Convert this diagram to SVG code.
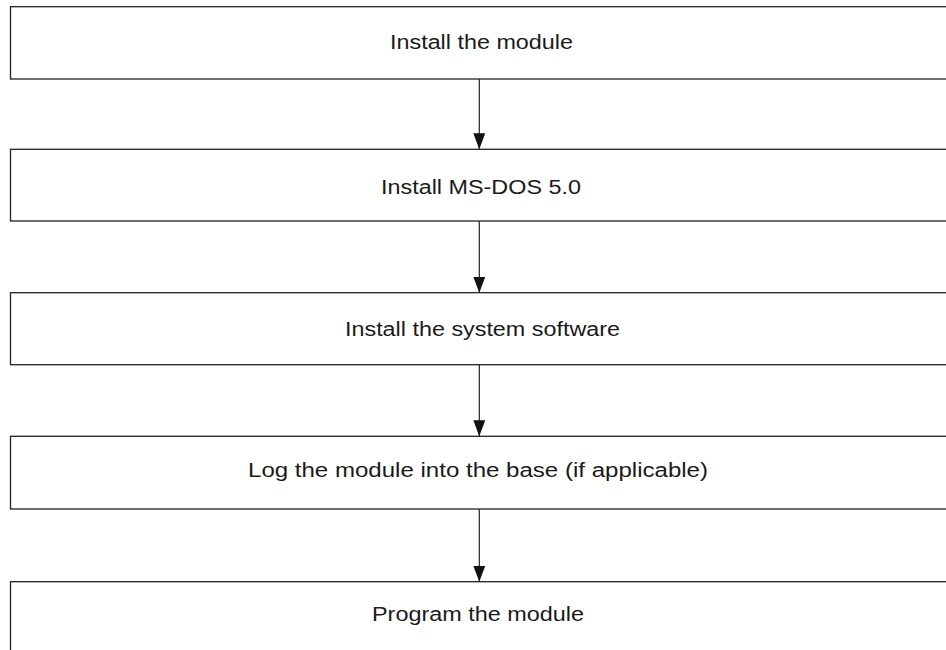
<svg xmlns="http://www.w3.org/2000/svg" width="946" height="650" viewBox="0 0 946 650">
  <style>
    .box { fill: #ffffff; stroke: #222222; stroke-width: 1.3; }
    .lbl { font-family: "Liberation Sans", Arial, sans-serif; font-size: 20px; fill: #1a1a1a; text-anchor: middle; }
    .link { stroke: #222222; stroke-width: 1.2; fill: none; }
  </style>
  <defs>
    <marker id="arrow" markerUnits="userSpaceOnUse" markerWidth="16" markerHeight="12" refX="16" refY="6" orient="auto" viewBox="0 0 16 12">
      <path d="M0,0 L16,6 L0,12 Z" fill="#111111"/>
    </marker>
  </defs>

  <rect width="946" height="650" fill="#ffffff"/>

  <g id="step1">
    <rect class="box" x="10.5" y="6.7" width="960" height="72.3"/>
    <text class="lbl" x="481.5" y="49" textLength="183" lengthAdjust="spacingAndGlyphs">Install the module</text>
  </g>

  <g id="step2">
    <rect class="box" x="10.5" y="149.3" width="960" height="71.7"/>
    <text class="lbl" x="481" y="194.3" textLength="200" lengthAdjust="spacingAndGlyphs">Install MS-DOS 5.0</text>
  </g>

  <g id="step3">
    <rect class="box" x="10.5" y="292.7" width="960" height="72"/>
    <text class="lbl" x="482.5" y="335.5" textLength="275" lengthAdjust="spacingAndGlyphs">Install the system software</text>
  </g>

  <g id="step4">
    <rect class="box" x="10.5" y="436.3" width="960" height="72.7"/>
    <text class="lbl" x="478" y="477.3" textLength="460" lengthAdjust="spacingAndGlyphs">Log the module into the base (if applicable)</text>
  </g>

  <g id="step5">
    <rect class="box" x="10.5" y="581.7" width="960" height="120"/>
    <text class="lbl" x="478" y="620.5" textLength="212" lengthAdjust="spacingAndGlyphs">Program the module</text>
  </g>

  <g id="connectors">
    <line class="link" x1="479.3" y1="79" x2="479.3" y2="149.3" marker-end="url(#arrow)"/>
    <line class="link" x1="479.3" y1="221" x2="479.3" y2="292.7" marker-end="url(#arrow)"/>
    <line class="link" x1="479.3" y1="364.7" x2="479.3" y2="436.3" marker-end="url(#arrow)"/>
    <line class="link" x1="479.3" y1="509" x2="479.3" y2="581.7" marker-end="url(#arrow)"/>
  </g>
</svg>
